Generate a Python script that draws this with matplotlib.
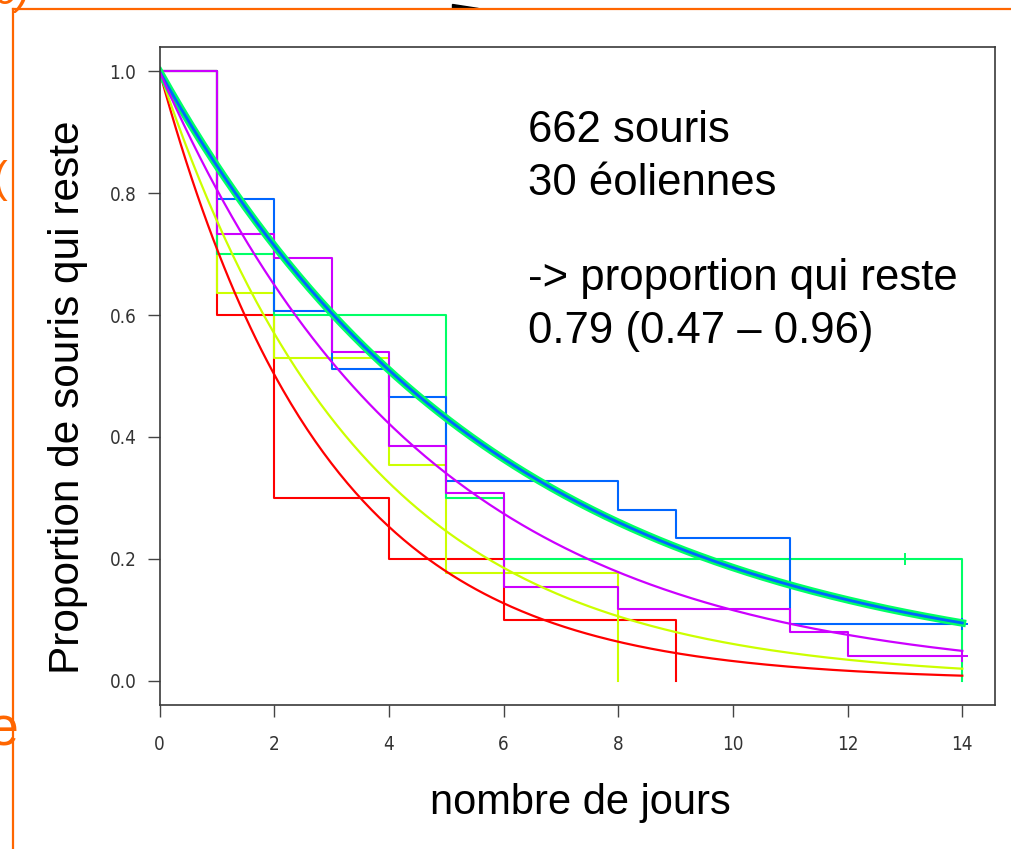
import numpy as np
import matplotlib
matplotlib.use("Agg")
import matplotlib.pyplot as plt
from matplotlib.lines import Line2D
from matplotlib.patches import Polygon

# Kaplan-Meier survival steps per group (days, proportion remaining)
red_t = [0, 1, 2, 4, 6, 9]
red_s = [1.0, 0.60, 0.30, 0.20, 0.10, 0.0]
yellow_t = [0, 1, 2, 4, 5, 8]
yellow_s = [1.0, 0.636, 0.530, 0.354, 0.177, 0.0]
green_t = [0, 1, 2, 5, 6, 14]
green_s = [1.0, 0.70, 0.60, 0.30, 0.20, 0.0]
blue_t = [0, 1, 2, 3, 4, 5, 8, 9, 11, 14]
blue_s = [1.0, 0.791, 0.606, 0.512, 0.466, 0.327, 0.280, 0.234, 0.0935, 0.0935]
magenta_t = [0, 1, 2, 3, 4, 5, 6, 8, 11, 12, 14]
magenta_s = [1.0, 0.733, 0.693, 0.540, 0.385, 0.308, 0.154, 0.1175, 0.079, 0.040, 0.040]

# censored observations (day, proportion)
green_cens = ([13], [0.20])
blue_cens = ([14], [0.0935])
magenta_cens = ([14], [0.040])

# fitted constant daily survival per group (exponential model)
daily_surv = {"red": 0.709, "yellow": 0.755, "green": 0.845, "blue": 0.845, "magenta": 0.806}

x_ticks = [0, 2, 4, 6, 8, 10, 12, 14]
y_ticks = [0.0, 0.2, 0.4, 0.6, 0.8, 1.0]

COL = {"red": "#FF0000", "yellow": "#CCFF00", "green": "#00FF66",
       "blue": "#0066FF", "magenta": "#CC00FF"}
ORANGE = "#FF6600"

W, H = 1012, 849
fig = plt.figure(figsize=(W / 100, H / 100), dpi=100)
fig.patch.set_facecolor("white")

def fx(px):
    return px / W

def fy(py):
    return 1 - py / H

ax = fig.add_axes([fx(159.5), fy(705), fx(995) - fx(159.5), fy(47) - fy(705)])
ax.set_xlim(0, 14.57)
ax.set_ylim(-0.04, 1.04)

lw_km = 1.5
ax.step(red_t, red_s, where="post", color=COL["red"], lw=lw_km)
ax.step(yellow_t, yellow_s, where="post", color=COL["yellow"], lw=lw_km)
ax.step(green_t, green_s, where="post", color=COL["green"], lw=lw_km)
ax.step(blue_t, blue_s, where="post", color=COL["blue"], lw=lw_km)
ax.step(magenta_t, magenta_s, where="post", color=COL["magenta"], lw=lw_km)

for (ct, cs), c in [(green_cens, "green"), (blue_cens, "blue"), (magenta_cens, "magenta")]:
    ax.plot(ct, cs, ls="none", marker="+", ms=9, mew=1.4, color=COL[c])

t = np.linspace(0, 14, 300)
ax.plot(t, daily_surv["red"] ** t, color=COL["red"], lw=1.6)
ax.plot(t, daily_surv["yellow"] ** t, color=COL["yellow"], lw=1.6)
ax.plot(t, daily_surv["green"] ** t, color=COL["green"], lw=5.4)
ax.plot(t, daily_surv["blue"] ** t, color=COL["blue"], lw=2.0)
ax.plot(t, daily_surv["magenta"] ** t, color=COL["magenta"], lw=1.6)

for sp in ax.spines.values():
    sp.set_color("#3a3a3a")
    sp.set_linewidth(1.2)

tick_font = {"family": "DejaVu Sans", "stretch": "condensed", "size": 13.5}
ax.set_xticks(x_ticks)
ax.set_xticklabels([str(v) for v in x_ticks], fontdict=tick_font, color="#333333")
ax.set_yticks(y_ticks)
ax.set_yticklabels([f"{v:.1f}" for v in y_ticks], fontdict=tick_font, color="#333333")
ax.tick_params(axis="both", length=8.6, width=1.0, color="#444444", direction="out")
ax.tick_params(axis="x", pad=13)
ax.tick_params(axis="y", pad=8)

big = dict(family="Liberation Sans", color="black")
fig.text(fx(68), fy(397), "Proportion de souris qui reste", rotation=90,
         ha="center", va="center", fontsize=30.5, **big)
fig.text(fx(580), fy(814), "nombre de jours", ha="center", va="baseline",
         fontsize=30, **big)

notes = ["662 souris", "30 éoliennes", "-> proportion qui reste", "0.79 (0.47 \u2013 0.96)"]
baselines = [142, 195, 290, 343]
for txt, b in zip(notes, baselines):
    fig.text(fx(528), fy(b), txt, ha="left", va="baseline", fontsize=31.5, **big)

# slide frame lines
fig.add_artist(Line2D([fx(13), 1], [fy(9), fy(9)], color=ORANGE, lw=1.6))
fig.add_artist(Line2D([fx(13), fx(13)], [fy(9), 0], color=ORANGE, lw=1.6))

# fragments of slide text clipped by the frame edges
fig.text(fx(-8), fy(192), "(", color=ORANGE, fontsize=32, ha="left", va="baseline",
         family="Liberation Sans")
fig.text(fx(-12), fy(746), "e", color=ORANGE, fontsize=40, ha="left", va="baseline",
         family="Liberation Sans")
fig.text(fx(-6), fy(4), "6)", color=ORANGE, fontsize=30, ha="left", va="baseline",
         family="Liberation Sans", style="italic")
fig.add_artist(Polygon([[fx(452), fy(4.3)], [fx(452), fy(8)], [fx(478), fy(8)]],
                       closed=True, color="black", transform=fig.transFigure))

fig.savefig("out.png", dpi=100)
